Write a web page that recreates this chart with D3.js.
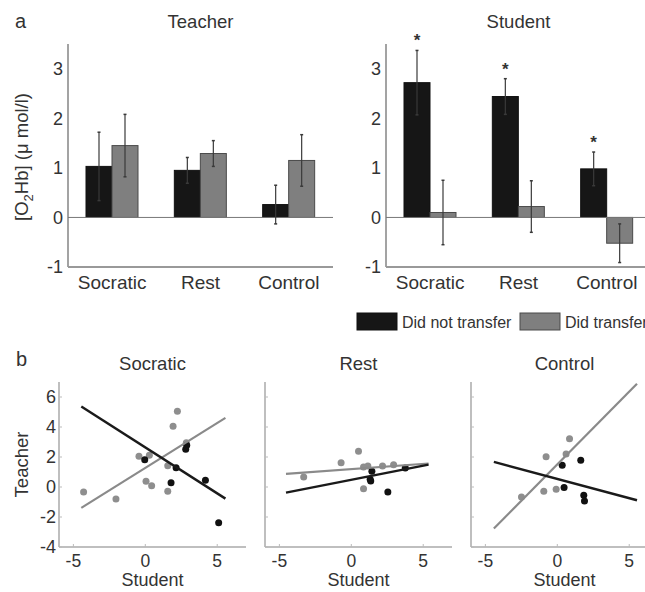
<!DOCTYPE html>
<html>
<head>
<meta charset="utf-8">
<script src="https://cdn.jsdelivr.net/npm/d3@7"></script>
<style>
  html, body { margin: 0; padding: 0; background: #fff; }
  svg { display: block; }
  text { font-family: "Liberation Sans", Arial, sans-serif; fill: #333; }
</style>
</head>
<body>
<svg id="chart" width="645" height="592"></svg>
<script>
// ---------- Data: panel a (bar charts) ----------
const groups = ["Socratic", "Rest", "Control"];
const seriesNames = ["Did not transfer", "Did transfer"];
const barTicks = [-1, 0, 1, 2, 3];

const teacherNoTransfer    = [1.03, 0.95, 0.26];
const teacherNoTransferErr = [0.69, 0.26, 0.39];
const teacherTransfer      = [1.45, 1.29, 1.15];
const teacherTransferErr   = [0.63, 0.26, 0.52];

const studentNoTransfer    = [2.72, 2.44, 0.98];
const studentNoTransferErr = [0.65, 0.36, 0.34];
const studentTransfer      = [0.10, 0.22, -0.52];
const studentTransferErr   = [0.65, 0.52, 0.39];
const studentStars         = [true, true, true];

// ---------- Data: panel b (scatter + fits) ----------
const scatterTitles = ["Socratic", "Rest", "Control"];
const scatterXTicks = [-5, 0, 5];
const scatterYTicks = [-4, -2, 0, 2, 4, 6];

const socraticNoX  = [-0.04, 1.79, 2.14, 2.88, 2.81, 4.18, 5.10];
const socraticNoY  = [1.82, 0.29, 1.29, 2.78, 2.51, 0.45, -2.38];
const socraticYesX = [-4.29, -2.04, -0.44, 0.28, 0.05, 0.44, 1.56, 1.56, 1.93, 2.23, 2.85];
const socraticYesY = [-0.33, -0.80, 2.05, 2.11, 0.38, 0.09, 1.42, -0.29, 4.05, 5.05, 2.95];

const restNoX  = [1.43, 1.31, 1.35, 2.54, 3.75];
const restNoY  = [1.05, 0.51, 0.40, -0.33, 1.27];
const restYesX = [-3.31, -0.71, 0.50, 0.85, 0.85, 1.15, 2.17, 2.94];
const restYesY = [0.67, 1.62, 2.38, -0.11, 1.33, 1.40, 1.40, 1.49];

const controlNoX  = [0.34, 0.47, 1.63, 1.84, 1.89];
const controlNoY  = [1.45, -0.04, 1.78, -0.55, -0.93];
const controlYesX = [-2.49, -0.94, -0.78, -0.08, 0.61, 0.85];
const controlYesY = [-0.67, -0.29, 2.02, -0.15, 2.20, 3.22];

// regression fits: slope, intercept, x-extent
const fitNoSlope      = [-0.613, 0.188, -0.257];
const fitNoIntercept  = [2.64, 0.48, 0.54];
const fitYesSlope     = [0.599, 0.070, 0.971];
const fitYesIntercept = [1.27, 1.19, 1.51];
const fitXStart       = [-4.45, -4.54, -4.41];
const fitXEnd         = [5.57, 5.37, 5.54];

// ---------- Style ----------
const BLACK = "#161616";
const GRAY = "#7f7f7f";
const AXIS = "#999";

const svg = d3.select("#chart");

// ---------- Panel a ----------
const yBar = d3.scaleLinear().domain([-1, 3.5]).range([267, 44]);

function barPanel(x0, x1, title, noVals, noErr, yesVals, yesErr, stars) {
  const g = svg.append("g");
  const xb = d3.scaleBand().domain(groups).range([x0, x1]);
  const xs = d3.scaleBand().domain(seriesNames).range([18, 70]);

  g.append("line").attr("x1", x0).attr("x2", x0).attr("y1", yBar(3.5)).attr("y2", yBar(-1))
    .attr("stroke", AXIS).attr("stroke-width", 1.8);
  g.append("line").attr("x1", x0).attr("x2", x1).attr("y1", yBar(-1)).attr("y2", yBar(-1))
    .attr("stroke", AXIS).attr("stroke-width", 1.8);

  g.selectAll(".yt").data(barTicks).enter().append("text")
    .attr("x", x0 - 5).attr("y", d => yBar(d)).attr("dy", "0.35em")
    .attr("text-anchor", "end").attr("font-size", 18).text(d => d);

  g.selectAll(".xt").data(groups).enter().append("text")
    .attr("x", d => xb(d) + xb.bandwidth() / 2).attr("y", 289)
    .attr("text-anchor", "middle").attr("font-size", 19).text(d => d);

  g.append("text").attr("x", (x0 + x1) / 2).attr("y", 28).attr("text-anchor", "middle")
    .attr("font-size", 18.5).text(title);

  const rows = groups.map((gname, i) => [
    { g: gname, s: seriesNames[0], v: noVals[i], e: noErr[i], star: stars ? stars[i] : false },
    { g: gname, s: seriesNames[1], v: yesVals[i], e: yesErr[i], star: false }
  ]).flat();

  g.selectAll(".bar").data(rows).enter().append("rect")
    .attr("x", d => xb(d.g) + xs(d.s))
    .attr("width", xs.bandwidth())
    .attr("y", d => yBar(Math.max(0, d.v)))
    .attr("height", d => Math.abs(yBar(d.v) - yBar(0)))
    .attr("fill", d => d.s === seriesNames[0] ? BLACK : GRAY)
    .attr("stroke", d => d.s === seriesNames[0] ? "#111" : "#4a4a4a")
    .attr("stroke-width", 1);

  g.append("line").attr("x1", x0).attr("x2", x1).attr("y1", yBar(0)).attr("y2", yBar(0))
    .attr("stroke", "#777").attr("stroke-width", 1);

  const eb = g.selectAll(".err").data(rows).enter().append("g");
  const cx = d => xb(d.g) + xs(d.s) + xs.bandwidth() / 2;
  eb.append("line").attr("x1", cx).attr("x2", cx)
    .attr("y1", d => yBar(d.v - d.e)).attr("y2", d => yBar(d.v + d.e))
    .attr("stroke", "#3a3a3a").attr("stroke-width", 1.2);
  eb.append("line").attr("x1", d => cx(d) - 1.5).attr("x2", d => cx(d) + 1.5)
    .attr("y1", d => yBar(d.v + d.e)).attr("y2", d => yBar(d.v + d.e))
    .attr("stroke", "#3a3a3a").attr("stroke-width", 1.5);
  eb.append("line").attr("x1", d => cx(d) - 1.5).attr("x2", d => cx(d) + 1.5)
    .attr("y1", d => yBar(d.v - d.e)).attr("y2", d => yBar(d.v - d.e))
    .attr("stroke", "#3a3a3a").attr("stroke-width", 1.5);

  g.selectAll(".star").data(rows.filter(d => d.star)).enter().append("text")
    .attr("x", cx).attr("y", d => yBar(d.v + d.e) - 4)
    .attr("text-anchor", "middle").attr("font-size", 17).attr("font-weight", "bold")
    .attr("fill", "#222").text("*");
}

barPanel(68, 333, "Teacher", teacherNoTransfer, teacherNoTransferErr, teacherTransfer, teacherTransferErr, null);
barPanel(386, 651, "Student", studentNoTransfer, studentNoTransferErr, studentTransfer, studentTransferErr, studentStars);

svg.append("text").attr("x", 15).attr("y", 28).attr("font-size", 20).text("a");
const yl = svg.append("text").attr("transform", "translate(28,157) rotate(-90)")
  .attr("text-anchor", "middle").attr("font-size", 18.5);
yl.append("tspan").text("[O");
yl.append("tspan").attr("dy", 5).attr("font-size", 13).text("2");
yl.append("tspan").attr("dy", -5).text("Hb] (\u03bc mol/l)");

// legend
const legend = svg.append("g");
const legendX = d3.scaleOrdinal().domain(seriesNames).range([357, 520]);
seriesNames.forEach((s, i) => {
  legend.append("rect").attr("x", legendX(s)).attr("y", 313).attr("width", 40).attr("height", 17)
    .attr("fill", i === 0 ? BLACK : GRAY).attr("stroke", i === 0 ? "#111" : "#4a4a4a").attr("stroke-width", 1);
  legend.append("text").attr("x", legendX(s) + 45).attr("y", 322).attr("dy", "0.35em")
    .attr("font-size", 16).text(s);
});

// ---------- Panel b ----------
svg.append("text").attr("x", 16).attr("y", 366).attr("font-size", 20).text("b");

const panelLefts = [59, 265, 471];
const noXs = [socraticNoX, restNoX, controlNoX];
const noYs = [socraticNoY, restNoY, controlNoY];
const yesXs = [socraticYesX, restYesX, controlYesX];
const yesYs = [socraticYesY, restYesY, controlYesY];

const ys = d3.scaleLinear().domain([-4, 7]).range([547, 382]);

scatterTitles.forEach((title, p) => {
  const left = panelLefts[p];
  const xs = d3.scaleLinear().domain([-6, 7]).range([left, left + 187]);
  const g = svg.append("g");

  g.append("line").attr("x1", left).attr("x2", left).attr("y1", ys(7)).attr("y2", ys(-4))
    .attr("stroke", "#aaa").attr("stroke-width", 1.5);
  g.append("line").attr("x1", left).attr("x2", xs(7)).attr("y1", ys(-4)).attr("y2", ys(-4))
    .attr("stroke", "#aaa").attr("stroke-width", 1.5);
  g.selectAll(".yt").data(scatterYTicks).enter().append("line")
    .attr("x1", left).attr("x2", left + 3).attr("y1", d => ys(d)).attr("y2", d => ys(d))
    .attr("stroke", "#bbb").attr("stroke-width", 1);
  g.selectAll(".xt").data(scatterXTicks).enter().append("line")
    .attr("x1", d => xs(d)).attr("x2", d => xs(d)).attr("y1", ys(-4)).attr("y2", ys(-4) - 3)
    .attr("stroke", "#bbb").attr("stroke-width", 1);

  if (p === 0) {
    g.selectAll(".ytl").data(scatterYTicks).enter().append("text")
      .attr("x", left - 3).attr("y", d => ys(d)).attr("dy", "0.35em")
      .attr("text-anchor", "end").attr("font-size", 18).text(d => d);
    g.append("text").attr("transform", `translate(28,${ys(1.5)}) rotate(-90)`)
      .attr("text-anchor", "middle").attr("font-size", 18.5).text("Teacher");
  }
  g.selectAll(".xtl").data(scatterXTicks).enter().append("text")
    .attr("x", d => xs(d)).attr("y", 567)
    .attr("text-anchor", "middle").attr("font-size", 17.5).text(d => d);
  g.append("text").attr("x", left + 187 / 2).attr("y", 586)
    .attr("text-anchor", "middle").attr("font-size", 18).text("Student");
  g.append("text").attr("x", left + 187 / 2).attr("y", 370)
    .attr("text-anchor", "middle").attr("font-size", 18.5).text(title);

  const yesPts = yesXs[p].map((x, i) => [x, yesYs[p][i]]);
  const noPts = noXs[p].map((x, i) => [x, noYs[p][i]]);
  g.selectAll(".yp").data(yesPts).enter().append("circle")
    .attr("cx", d => xs(d[0])).attr("cy", d => ys(d[1])).attr("r", 3.5).attr("fill", "#8e8e8e");
  g.selectAll(".np").data(noPts).enter().append("circle")
    .attr("cx", d => xs(d[0])).attr("cy", d => ys(d[1])).attr("r", 3.5).attr("fill", "#111");

  const line = d3.line().x(d => xs(d[0])).y(d => ys(d[1]));
  const xe = [fitXStart[p], fitXEnd[p]];
  g.append("path").attr("d", line(xe.map(x => [x, fitYesSlope[p] * x + fitYesIntercept[p]])))
    .attr("stroke", "#8a8a8a").attr("stroke-width", 2.2).attr("fill", "none");
  g.append("path").attr("d", line(xe.map(x => [x, fitNoSlope[p] * x + fitNoIntercept[p]])))
    .attr("stroke", "#1a1a1a").attr("stroke-width", 2.4).attr("fill", "none");
});
</script>
</body>
</html>
